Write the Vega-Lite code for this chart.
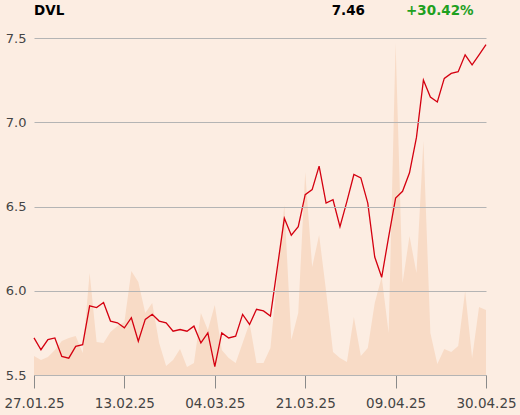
{
  "$schema": "https://vega.github.io/schema/vega-lite/v6.json",
  "width": 452,
  "height": 337,
  "autosize": {"type": "none"},
  "padding": {"left": 34, "top": 38, "right": 34, "bottom": 40},
  "background": "#fcede2",
  "config": {
    "view": {"stroke": null},
    "font": "DejaVu Sans"
  },
  "datasets": {
    "prices": [
      {"i":0,"date":"27.01.25","close":5.72,"vol":19},
      {"i":1,"date":"28.01.25","close":5.65,"vol":15},
      {"i":2,"date":"29.01.25","close":5.71,"vol":18},
      {"i":3,"date":"30.01.25","close":5.72,"vol":25},
      {"i":4,"date":"31.01.25","close":5.61,"vol":34},
      {"i":5,"date":"03.02.25","close":5.60,"vol":37},
      {"i":6,"date":"04.02.25","close":5.67,"vol":39},
      {"i":7,"date":"05.02.25","close":5.68,"vol":22},
      {"i":8,"date":"06.02.25","close":5.91,"vol":102},
      {"i":9,"date":"07.02.25","close":5.90,"vol":33},
      {"i":10,"date":"10.02.25","close":5.93,"vol":32},
      {"i":11,"date":"11.02.25","close":5.82,"vol":43},
      {"i":12,"date":"12.02.25","close":5.81,"vol":49},
      {"i":13,"date":"13.02.25","close":5.78,"vol":53},
      {"i":14,"date":"14.02.25","close":5.84,"vol":104},
      {"i":15,"date":"17.02.25","close":5.70,"vol":93},
      {"i":16,"date":"18.02.25","close":5.83,"vol":62},
      {"i":17,"date":"19.02.25","close":5.86,"vol":72},
      {"i":18,"date":"20.02.25","close":5.82,"vol":32},
      {"i":19,"date":"21.02.25","close":5.81,"vol":9},
      {"i":20,"date":"24.02.25","close":5.76,"vol":15},
      {"i":21,"date":"25.02.25","close":5.77,"vol":26},
      {"i":22,"date":"26.02.25","close":5.76,"vol":8},
      {"i":23,"date":"27.02.25","close":5.79,"vol":12},
      {"i":24,"date":"28.02.25","close":5.69,"vol":62},
      {"i":25,"date":"03.03.25","close":5.75,"vol":45},
      {"i":26,"date":"04.03.25","close":5.55,"vol":70},
      {"i":27,"date":"05.03.25","close":5.75,"vol":25},
      {"i":28,"date":"06.03.25","close":5.72,"vol":17},
      {"i":29,"date":"07.03.25","close":5.73,"vol":12},
      {"i":30,"date":"10.03.25","close":5.86,"vol":32},
      {"i":31,"date":"11.03.25","close":5.80,"vol":52},
      {"i":32,"date":"12.03.25","close":5.89,"vol":12},
      {"i":33,"date":"13.03.25","close":5.88,"vol":12},
      {"i":34,"date":"14.03.25","close":5.85,"vol":27},
      {"i":35,"date":"17.03.25","close":6.14,"vol":100},
      {"i":36,"date":"18.03.25","close":6.43,"vol":170},
      {"i":37,"date":"19.03.25","close":6.33,"vol":35},
      {"i":38,"date":"20.03.25","close":6.38,"vol":62},
      {"i":39,"date":"21.03.25","close":6.57,"vol":203},
      {"i":40,"date":"24.03.25","close":6.60,"vol":108},
      {"i":41,"date":"25.03.25","close":6.74,"vol":140},
      {"i":42,"date":"26.03.25","close":6.52,"vol":84},
      {"i":43,"date":"27.03.25","close":6.54,"vol":23},
      {"i":44,"date":"28.03.25","close":6.38,"vol":17},
      {"i":45,"date":"31.03.25","close":6.53,"vol":13},
      {"i":46,"date":"01.04.25","close":6.69,"vol":58},
      {"i":47,"date":"02.04.25","close":6.67,"vol":19},
      {"i":48,"date":"03.04.25","close":6.52,"vol":27},
      {"i":49,"date":"04.04.25","close":6.20,"vol":72},
      {"i":50,"date":"07.04.25","close":6.08,"vol":98},
      {"i":51,"date":"08.04.25","close":6.32,"vol":42},
      {"i":52,"date":"09.04.25","close":6.55,"vol":332},
      {"i":53,"date":"10.04.25","close":6.59,"vol":92},
      {"i":54,"date":"11.04.25","close":6.70,"vol":139},
      {"i":55,"date":"14.04.25","close":6.91,"vol":102},
      {"i":56,"date":"15.04.25","close":7.25,"vol":234},
      {"i":57,"date":"16.04.25","close":7.15,"vol":42},
      {"i":58,"date":"17.04.25","close":7.12,"vol":11},
      {"i":59,"date":"22.04.25","close":7.26,"vol":26},
      {"i":60,"date":"23.04.25","close":7.29,"vol":23},
      {"i":61,"date":"24.04.25","close":7.30,"vol":29},
      {"i":62,"date":"25.04.25","close":7.40,"vol":84},
      {"i":63,"date":"28.04.25","close":7.34,"vol":17},
      {"i":64,"date":"29.04.25","close":7.40,"vol":68},
      {"i":65,"date":"30.04.25","close":7.46,"vol":65}
    ],
    "labels": [
      {"i":0,"y":7.636,"t":"DVL","k":"name"},
      {"i":47.6,"y":7.636,"t":"7.46","k":"last"},
      {"i":53.5,"y":7.636,"t":"+30.42%","k":"chg"}
    ]
  },
  "layer": [
    {
      "data": {"name": "prices"},
      "mark": {"type": "area", "color": "#f8dbc6", "interpolate": "linear"},
      "encoding": {
        "x": {
          "field": "i", "type": "quantitative",
          "scale": {"domain": [0, 65], "nice": false, "zero": false},
          "axis": {
            "title": null,
            "values": [0, 13, 26, 39, 52, 65],
            "labelExpr": "['27.01.25','13.02.25','04.03.25','21.03.25','09.04.25','30.04.25'][round(datum.value/13)]",
            "grid": false,
            "domainColor": "#8a8a8a",
            "tickColor": "#8a8a8a",
            "tickSize": 13,
            "labelPadding": 8,
            "labelFontSize": 13.5,
            "labelColor": "#444444",
            "labelFlush": false,
            "labelOverlap": false
          }
        },
        "y": {"field": "vol", "type": "quantitative", "scale": {"domain": [0, 337], "nice": false}, "axis": null}
      }
    },
    {
      "layer": [
        {
          "data": {"name": "prices"},
          "mark": {"type": "line", "color": "#d40010", "strokeWidth": 1.3},
          "encoding": {
            "x": {"field": "i", "type": "quantitative"},
            "y": {
              "field": "close", "type": "quantitative",
              "scale": {"domain": [5.5, 7.5], "nice": false, "zero": false},
              "axis": {
                "title": null,
                "values": [5.5, 6.0, 6.5, 7.0, 7.5],
                "format": ".1f",
                "domain": false,
                "ticks": false,
                "grid": true,
                "gridColor": "#b4b4b4",
                "gridWidth": 1,
                "labelPadding": 8,
                "labelFontSize": 13,
                "labelColor": "#444444",
                "zindex": 1
              }
            }
          }
        },
        {
          "data": {"name": "labels"},
          "transform": [{"filter": "datum.k == 'name'"}],
          "mark": {"type": "text", "align": "left", "baseline": "alphabetic", "fontWeight": "bold", "fontSize": 13.5, "color": "#000000"},
          "encoding": {
            "x": {"field": "i", "type": "quantitative"},
            "y": {"field": "y", "type": "quantitative"},
            "text": {"field": "t"}
          }
        },
        {
          "data": {"name": "labels"},
          "transform": [{"filter": "datum.k == 'last'"}],
          "mark": {"type": "text", "align": "right", "baseline": "alphabetic", "fontWeight": "bold", "fontSize": 13.5, "color": "#000000"},
          "encoding": {
            "x": {"field": "i", "type": "quantitative"},
            "y": {"field": "y", "type": "quantitative"},
            "text": {"field": "t"}
          }
        },
        {
          "data": {"name": "labels"},
          "transform": [{"filter": "datum.k == 'chg'"}],
          "mark": {"type": "text", "align": "left", "baseline": "alphabetic", "fontWeight": "bold", "fontSize": 13.5, "color": "#1fa01f"},
          "encoding": {
            "x": {"field": "i", "type": "quantitative"},
            "y": {"field": "y", "type": "quantitative"},
            "text": {"field": "t"}
          }
        }
      ]
    }
  ],
  "resolve": {"scale": {"y": "independent"}}
}
